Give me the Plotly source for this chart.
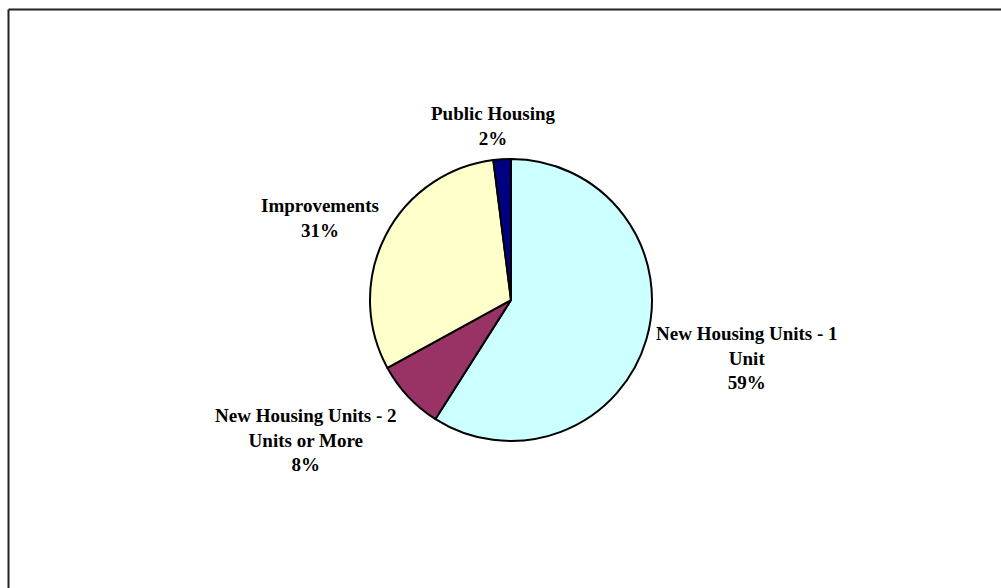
import plotly.graph_objects as go

# Share of spending by housing category
categories = [
    "New Housing Units - 1 Unit",
    "New Housing Units - 2 Units or More",
    "Improvements",
    "Public Housing",
]
shares = [59, 8, 31, 2]
label_text = [
    "New Housing Units - 1<br>Unit<br>59%",
    "New Housing Units - 2<br>Units or More<br>8%",
    "Improvements<br>31%",
    "Public Housing<br>2%",
]
slice_colors = ["#CCFFFF", "#993366", "#FFFFCC", "#000080"]

W, H = 1001, 588
cx, cy, r = 511, 300, 141  # pie centre and radius in pixels

fig = go.Figure(
    go.Pie(
        labels=categories,
        values=shares,
        sort=False,
        direction="clockwise",
        rotation=0,
        marker=dict(colors=slice_colors, line=dict(color="black", width=2)),
        textinfo="none",
        hoverinfo="label+percent",
        domain=dict(x=[(cx - r) / W, (cx + r) / W], y=[(H - cy - r) / H, (H - cy + r) / H]),
        showlegend=False,
    )
)

# Label block centres in pixels
label_pos = [(747, 358), (306, 440), (320, 218), (493, 126)]
for txt, (px, py) in zip(label_text, label_pos):
    fig.add_annotation(
        x=px / W, y=1 - py / H, xref="paper", yref="paper",
        text="<b>" + txt + "</b>", showarrow=False,
        xanchor="center", yanchor="middle", align="center",
        font=dict(family="Liberation Serif", size=19, color="black"),
    )

# Frame along the top and left edges
frame = dict(color="#222222", width=2)
fig.add_shape(type="line", xref="paper", yref="paper",
              x0=8.5 / W, x1=1.0, y0=1 - 9.5 / H, y1=1 - 9.5 / H, line=frame)
fig.add_shape(type="line", xref="paper", yref="paper",
              x0=8.5 / W, x1=8.5 / W, y0=0, y1=1 - 9.5 / H, line=frame)

fig.update_layout(
    width=W, height=H,
    margin=dict(l=0, r=0, t=0, b=0),
    paper_bgcolor="white", plot_bgcolor="white",
)

fig.write_html("out.html")
